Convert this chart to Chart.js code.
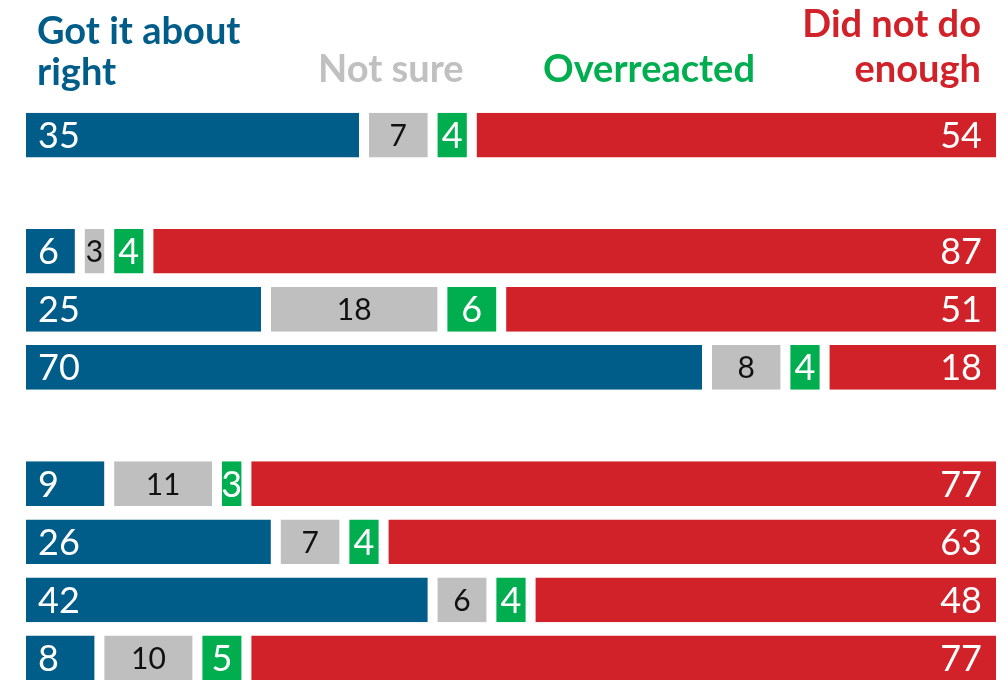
<!DOCTYPE html>
<html>
<head>
<meta charset="utf-8">
<script src="https://cdn.jsdelivr.net/npm/chart.js@4"></script>
<style>
  body { margin: 0; background: #fff; overflow: hidden; }
  #wrap { position: relative; width: 1005px; height: 680px; overflow: hidden; }
  .hdr { position: absolute; font-family: Lato, sans-serif; font-weight: 700; font-size: 38px; white-space: nowrap; }
</style>
</head>
<body>
<div id="wrap">
  <canvas id="myChart" width="1005" height="687"></canvas>
  <div class="hdr" style="left:37px; top:9px; line-height:41px; color:#005D89;">Got it about<br>right</div>
  <div class="hdr" style="left:318px; top:47px; line-height:41px; color:#C0C0C0;">Not sure</div>
  <div class="hdr" style="left:543px; top:47px; line-height:41px; color:#00AE4F;">Overreacted</div>
  <div class="hdr" style="right:24px; top:0px; line-height:45px; color:#D12229; text-align:right;">Did not do<br>enough</div>
</div>
<script>
const categories = ["Overall", "", "Group A1", "Group A2", "Group A3", "", "Group B1", "Group B2", "Group B3", "Group B4"];
const gotItRight = [35, null, 6, 25, 70, null, 9, 26, 42, 8];
const notSure = [7, null, 3, 18, 8, null, 11, 7, 6, 10];
const overreacted = [4, null, 4, 6, 4, null, 3, 4, 4, 5];
const didNotDoEnough = [54, null, 87, 51, 18, null, 77, 63, 48, 77];

const ctx = document.getElementById("myChart").getContext("2d");

const barStyle = {
  borderColor: "#ffffff",
  borderWidth: { left: 5, right: 5, top: 0, bottom: 0 },
  borderSkipped: false,
  barPercentage: 0.77,
  categoryPercentage: 1,
};

// numbers written inside the bars
const barLabels = {
  id: "barLabels",
  afterDatasetsDraw(chart) {
    const c = chart.ctx;
    c.save();
    chart.data.datasets.forEach((ds, i) => {
      const meta = chart.getDatasetMeta(i);
      meta.data.forEach((bar, j) => {
        const v = ds.data[j];
        if (v == null) return;
        const { x, base, y } = bar.getProps(["x", "base", "y"], true);
        c.fillStyle = ds.labelColor;
        c.font = ds.labelFont;
        c.textBaseline = "alphabetic";
        const dy = ds.labelDy;
        if (ds.labelAlign === "left") {
          c.textAlign = "left";
          c.fillText(v, base + 17, y + dy);
        } else if (ds.labelAlign === "right") {
          c.textAlign = "right";
          c.fillText(v, x - 19, y + dy);
        } else {
          c.textAlign = "center";
          c.fillText(v, (x + base) / 2, y + dy);
        }
      });
    });
    c.restore();
  },
};

new Chart(ctx, {
  type: "bar",
  data: {
    labels: categories,
    datasets: [
      { label: "Got it about right", data: gotItRight, backgroundColor: "#005D89", labelColor: "#fff", labelFont: "400 36px Lato", labelAlign: "left", labelDy: 13, ...barStyle },
      { label: "Not sure", data: notSure, backgroundColor: "#BFBFBF", labelColor: "#111", labelFont: "400 30px Lato", labelAlign: "center", labelDy: 11, ...barStyle },
      { label: "Overreacted", data: overreacted, backgroundColor: "#00AE4F", labelColor: "#fff", labelFont: "400 36px Lato", labelAlign: "center", labelDy: 13, ...barStyle },
      { label: "Did not do enough", data: didNotDoEnough, backgroundColor: "#D12229", labelColor: "#fff", labelFont: "400 36px Lato", labelAlign: "right", labelDy: 13, ...barStyle },
    ],
  },
  options: {
    indexAxis: "y",
    responsive: false,
    animation: false,
    layout: { padding: { left: 21, right: 4, top: 106, bottom: 0 } },
    plugins: {
      legend: { display: false },
      tooltip: { enabled: false },
    },
    scales: {
      x: { stacked: true, min: 0, max: 100, display: false },
      y: { stacked: true, display: false },
    },
  },
  plugins: [barLabels],
});
</script>
</body>
</html>
